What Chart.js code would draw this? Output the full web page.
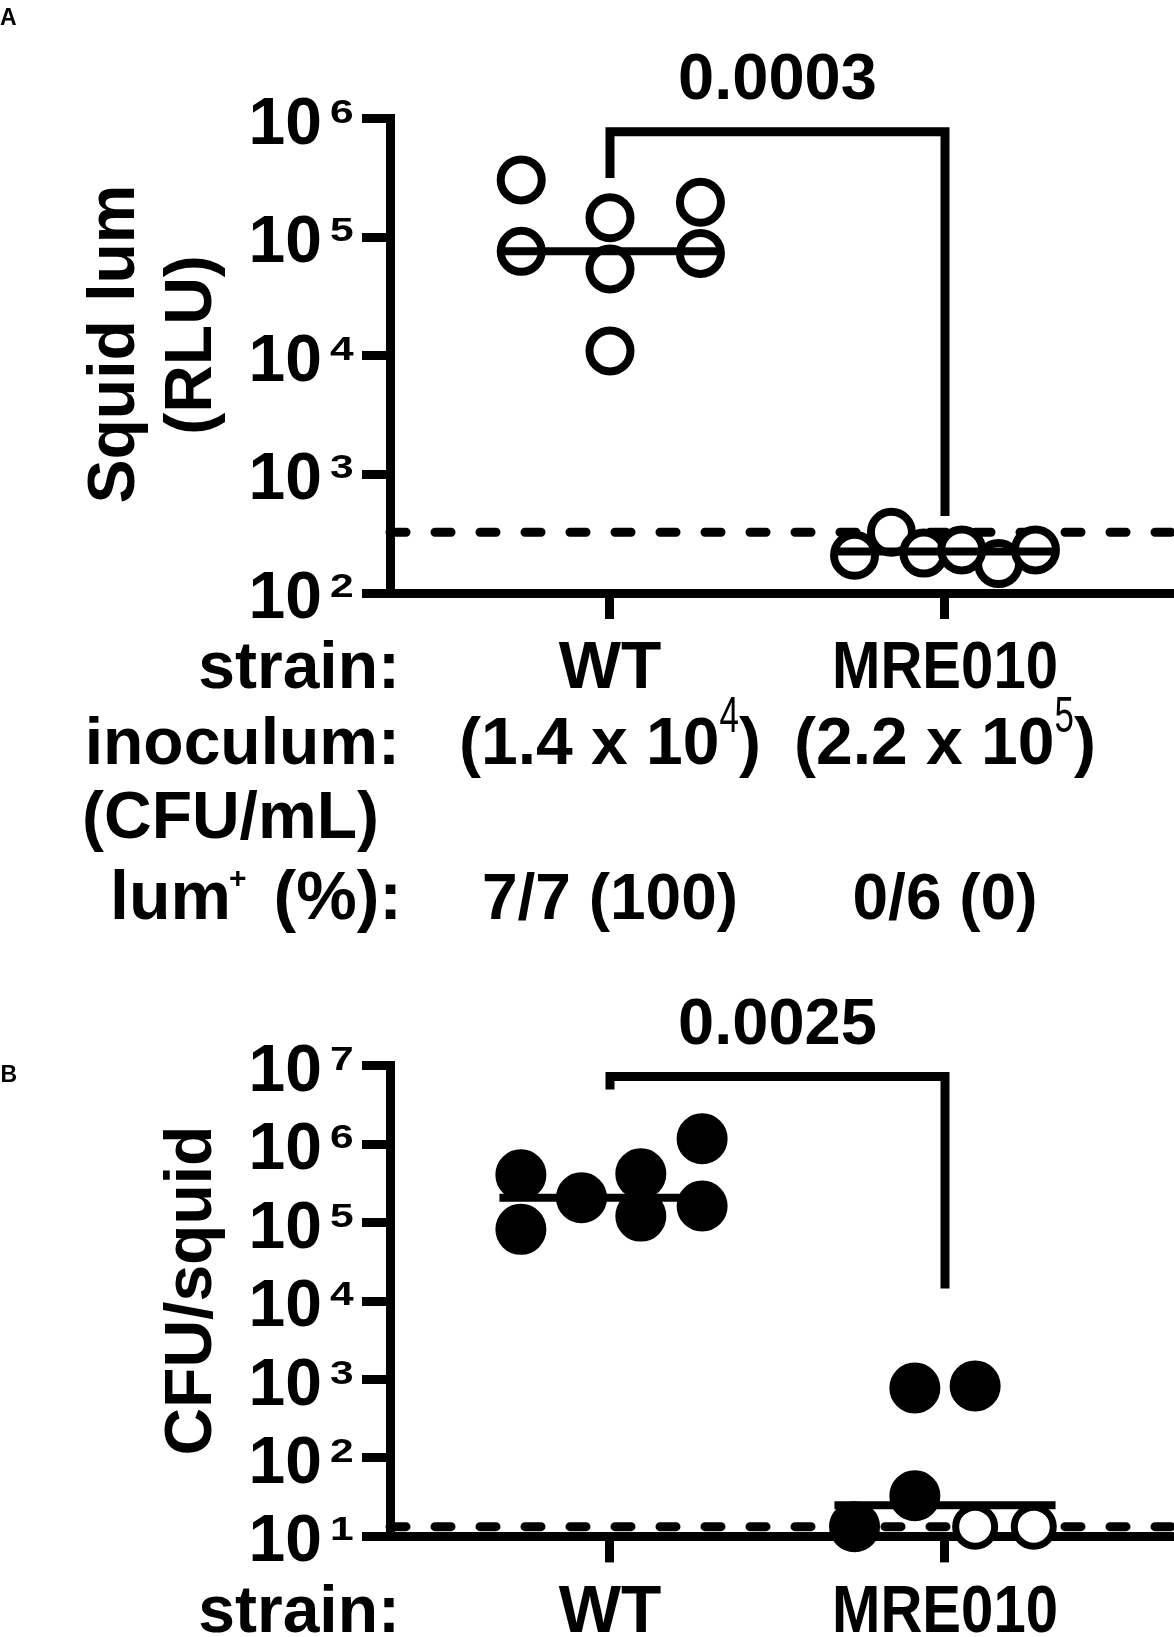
<!DOCTYPE html>
<html>
<head>
<meta charset="utf-8">
<script src="https://cdn.jsdelivr.net/npm/chart.js@4.4.1/dist/chart.umd.min.js"></script>
<style>
  html, body { margin: 0; padding: 0; background: #fff; }
  #wrap { position: relative; width: 1174px; height: 1637px; }
  canvas { position: absolute; left: 0; }
  #panelA { top: 0; }
  #panelB { top: 950px; }
</style>
</head>
<body>
<div id="wrap">
  <canvas id="panelA" width="1174" height="950"></canvas>
  <canvas id="panelB" width="1174" height="687"></canvas>
</div>
<script>
// ===================== DATA =====================
const strains = ['WT', 'MRE010'];
const inoculumMantissa = ['1.4', '2.2'];
const inoculumExp = ['4', '5'];
const lumPositive = ['7/7 (100)', '0/6 (0)'];

// panel A: squid luminescence (RLU); *Jit = horizontal scatter inside the column
const lumTicks = [1e2, 1e3, 1e4, 1e5, 1e6];
const lumWTJit = [-0.265, -0.265, 0, 0, 0, 0.27, 0.27];
const lumWTy = [3.04e5, 7.6e4, 1.46e5, 5.4e4, 1.1e4, 1.97e5, 7.3e4];
const lumMREJit = [0.16, -0.27, -0.16, -0.063, 0.05, 0.27];
const lumMREy = [177, 208, 325, 217, 231, 231];
const lumMedians = [7.6e4, 224];
const lumLimit = 325;
const lumBracket = [3.16e5, 7.76e5, 446];   // left leg end, bar, right leg end
const lumP = '0.0003';

// panel B: CFU per squid
const cfuTicks = [1e1, 1e2, 1e3, 1e4, 1e5, 1e6, 1e7];
const cfuWTJit = [-0.266, -0.266, -0.085, 0.092, 0.092, 0.275, 0.275];
const cfuWTy = [4.08e5, 8.2e4, 2.07e5, 4.18e5, 1.21e5, 1.17e6, 1.63e5];
const cfuMREJit = [-0.27, -0.09, 0.09, -0.09];
const cfuMREy = [13.3, 780, 826, 33];
const cfuMREOpenJit = [0.09, 0.265];
const cfuMREOpenY = [13.3, 13.3];
const cfuMedians = [2.07e5, 25];
const cfuLimit = 13.3;
const cfuBracket = [4.99e6, 7.26e6, 1.45e4];
const cfuP = '0.0025';

// ===================== LAYOUT / STYLE =====================
const XMIN = -0.6567, XMAX = 1.6836;
const MEDIAN_HALF = 0.33;
const FONT = '"Liberation Sans", Arial, Helvetica, sans-serif';
const strainScaleX = [1, 0.88];

function fontStr(size, weight){ return `${weight || 'bold'} ${size}px ${FONT}`; }

function drawText(ctx, s, x, y, size, opt = {}){
  ctx.save();
  ctx.font = fontStr(size, opt.weight);
  ctx.fillStyle = '#000';
  ctx.textBaseline = 'alphabetic';
  ctx.textAlign = opt.align || 'left';
  ctx.translate(x, y);
  if(opt.rotate) ctx.rotate(opt.rotate);
  ctx.scale(opt.sx || 1, 1);
  ctx.fillText(s, 0, 0);
  ctx.restore();
}

function measure(ctx, s, size, weight){
  ctx.save();
  ctx.font = fontStr(size, weight);
  const w = ctx.measureText(s).width;
  ctx.restore();
  return w;
}

// column index + jitter -> scatter points
function pts(col, jit, ys){ return jit.map((j, i) => ({x: col + j, y: ys[i]})); }

function lineSet(data, width, order, extra){
  return Object.assign({
    data: data, showLine: true, borderColor: '#000', borderWidth: width,
    pointRadius: 0, pointHoverRadius: 0, tension: 0, fill: false,
    clip: false, order: order
  }, extra || {});
}

function pointSet(data, radius, bw, bg, order){
  return {
    data: data, showLine: false, pointStyle: 'circle',
    pointRadius: radius, pointHoverRadius: radius, pointBorderWidth: bw,
    pointBorderColor: '#000', pointBackgroundColor: bg,
    clip: false, order: order
  };
}

function medianSets(medians, width, order){
  return medians.map((m, i) => lineSet([{x: i - MEDIAN_HALF, y: m}, {x: i + MEDIAN_HALF, y: m}], width, order));
}

function bracketSet(b, order){
  return lineSet([{x: 0, y: b[0]}, {x: 0, y: b[1]}, {x: 1, y: b[1]}, {x: 1, y: b[2]}], 9, order,
    {borderJoinStyle: 'miter', borderCapStyle: 'butt'});
}

function limitSet(v, order){
  return lineSet([{x: XMIN, y: v}, {x: XMAX, y: v}], 9, order,
    {borderDash: [16, 29], borderCapStyle: 'round'});
}

function drawYTicks(ctx, yScale, ticks){
  ticks.forEach(v => {
    const py = yScale.getPixelForValue(v);
    drawText(ctx, '10', 322, py + 25, 66, {align: 'right'});
    drawText(ctx, String(Math.round(Math.log10(v))), 330, py + 4, 34, {sx: 1.25});
  });
}

function drawStrainRow(ctx, xs, baseline){
  drawText(ctx, 'strain:', 400, baseline, 66, {align: 'right'});
  strains.forEach((s, i) => drawText(ctx, s, xs[i], baseline, 66, {align: 'center', sx: strainScaleX[i]}));
}

function crearPanel(canvasId, cfg){
  const canvas = document.getElementById(canvasId);
  const H = canvas.height;
  return new Chart(canvas, {
    type: 'scatter',
    data: { datasets: cfg.datasets },
    options: {
      responsive: false,
      animation: false,
      devicePixelRatio: 1,
      layout: { autoPadding: false, padding: { top: cfg.topPx, left: 0, right: 0, bottom: 0 } },
      plugins: { legend: { display: false }, tooltip: { enabled: false } },
      events: [],
      scales: {
        x: {
          type: 'linear', min: XMIN, max: XMAX,
          afterBuildTicks: s => { s.ticks = strains.map((_, i) => ({value: i})); },
          afterFit: s => { s.height = H - cfg.bottomPx; },
          ticks: { display: false },
          border: { display: true, color: '#000', width: 9 },
          grid: { display: true, drawOnChartArea: false, drawTicks: true, tickLength: 26,
                  lineWidth: 9, tickWidth: 9, color: '#000', tickColor: '#000' }
        },
        y: {
          type: 'logarithmic', min: cfg.ticks[0], max: cfg.ticks[cfg.ticks.length - 1],
          afterBuildTicks: s => { s.ticks = cfg.ticks.map(v => ({value: v})); },
          afterFit: s => { s.width = 390; },
          ticks: { display: false },
          border: { display: true, color: '#000', width: 9 },
          grid: { display: true, drawOnChartArea: false, drawTicks: true, tickLength: 28,
                  lineWidth: 9, tickWidth: 9, color: '#000', tickColor: '#000' }
        }
      }
    },
    plugins: [{
      id: 'etiquetas',
      afterDraw(chart){
        const ctx = chart.ctx;
        const xs = strains.map((_, i) => chart.scales.x.getPixelForValue(i));
        drawYTicks(ctx, chart.scales.y, cfg.ticks);
        const by = chart.scales.y.getPixelForValue(cfg.bracket[1]) - 33;
        drawText(ctx, cfg.p, (xs[0] + xs[1]) / 2, by, 65, {align: 'center'});
        cfg.labels(ctx, xs);
      }
    }]
  });
}

// ===================== PANEL A =====================
crearPanel('panelA', {
  topPx: 118.6, bottomPx: 593, ticks: lumTicks, bracket: lumBracket, p: lumP,
  datasets: [
    limitSet(lumLimit, 6),
    bracketSet(lumBracket, 5),
    pointSet(pts(0, lumWTJit, lumWTy), 20.5, 8, '#fff', 3),
    pointSet(pts(1, lumMREJit, lumMREy), 20.5, 8, '#fff', 3),
    ...medianSets(lumMedians, 8, 1)
  ],
  labels(ctx, xs){
    drawText(ctx, 'A', 0, 24.5, 23);
    drawText(ctx, 'Squid lum', 134, 344, 66, {align: 'center', rotate: -Math.PI / 2});
    drawText(ctx, '(RLU)', 210.5, 345, 66, {align: 'center', rotate: -Math.PI / 2});

    drawStrainRow(ctx, xs, 688);

    drawText(ctx, 'inoculum:', 400, 764, 66, {align: 'right'});
    strains.forEach((s, i) => {
      const main = '(' + inoculumMantissa[i] + ' x 10';
      const wMain = measure(ctx, main, 66);
      const wSup = measure(ctx, inoculumExp[i], 50, 'normal') * 0.7;
      const wClose = measure(ctx, ')', 66);
      const x0 = xs[i] - (wMain + wSup + wClose) / 2;
      drawText(ctx, main, x0, 764, 66);
      drawText(ctx, inoculumExp[i], x0 + wMain, 731.5, 50, {weight: 'normal', sx: 0.7});
      drawText(ctx, ')', x0 + wMain + wSup, 764, 66);
    });
    drawText(ctx, '(CFU/mL)', 82, 838, 66);

    drawText(ctx, 'lum', 110, 919, 68);
    drawText(ctx, '+', 229, 888, 30);
    drawText(ctx, '(%):', 402, 919, 68, {align: 'right'});
    lumPositive.forEach((s, i) => drawText(ctx, s, xs[i], 919, 64, {align: 'center'}));
  }
});

// ===================== PANEL B =====================
crearPanel('panelB', {
  topPx: 115.7, bottomPx: 586.4, ticks: cfuTicks, bracket: cfuBracket, p: cfuP,
  datasets: [
    limitSet(cfuLimit, 6),
    bracketSet(cfuBracket, 5),
    ...medianSets(cfuMedians, 8, 4),
    pointSet(pts(0, cfuWTJit, cfuWTy), 22.5, 6, '#000', 2),
    pointSet(pts(1, cfuMREJit, cfuMREy), 22.5, 6, '#000', 2),
    pointSet(pts(1, cfuMREOpenJit, cfuMREOpenY), 19.5, 7, '#fff', 1)
  ],
  labels(ctx, xs){
    drawText(ctx, 'B', 0.5, 132, 23);
    drawText(ctx, 'CFU/squid', 210.5, 340.6, 66, {align: 'center', rotate: -Math.PI / 2});
    drawStrainRow(ctx, xs, 682);
  }
});
</script>
</body>
</html>
